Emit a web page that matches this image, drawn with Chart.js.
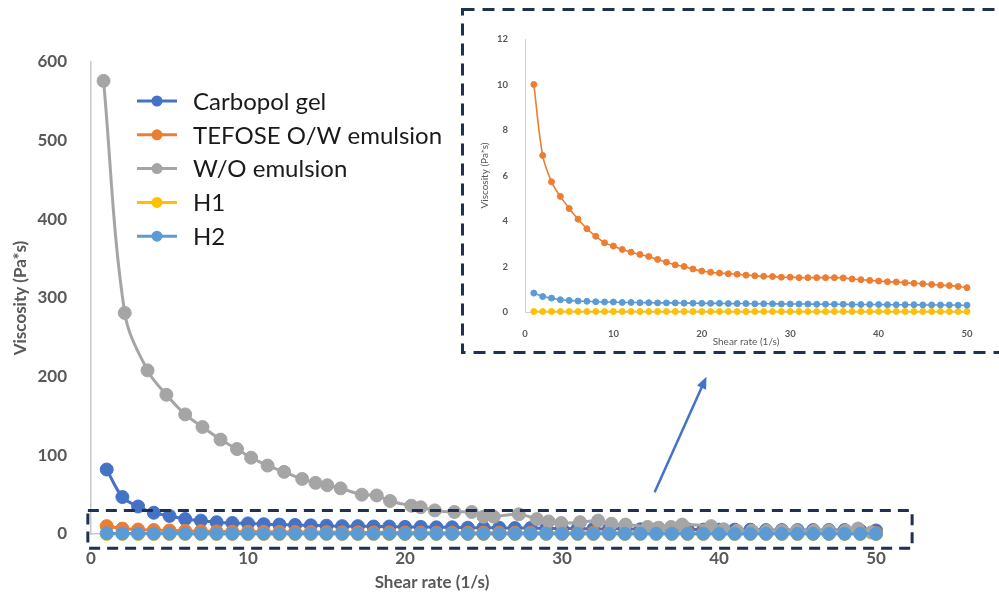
<!DOCTYPE html>
<html>
<head>
<meta charset="utf-8">
<script src="https://cdn.jsdelivr.net/npm/chart.js@4.4.1/dist/chart.umd.min.js"></script>
<style>
  html, body { margin: 0; padding: 0; background: #fff; }
  #wrap { position: relative; width: 999px; height: 599px; }
  #mainChart { position: absolute; left: 0; top: 0; }
  #zoomChart { position: absolute; left: 460px; top: 0; }
</style>
</head>
<body>
<div id="wrap">
  <canvas id="mainChart" width="999" height="599"></canvas>
  <canvas id="zoomChart" width="539" height="360"></canvas>
</div>
<script>
// Shear rate steps (1/s)
const shearRates = [1, 2, 3, 4, 5, 6, 7, 8, 9, 10, 11, 12, 13, 14, 15, 16, 17, 18, 19, 20,
  21, 22, 23, 24, 25, 26, 27, 28, 29, 30, 31, 32, 33, 34, 35, 36, 37, 38, 39, 40,
  41, 42, 43, 44, 45, 46, 47, 48, 49, 50];

// Viscosity (Pa*s)
const carbopol = [82, 47, 35, 27, 23, 19, 17, 15, 14, 13.5, 12.5, 12, 11.5, 11, 10.5, 10, 10, 9.5, 9.5, 9,
  9, 8.5, 8.5, 8, 8, 8, 7.5, 7.5, 7, 7, 7, 6.5, 6.5, 6.5, 6, 6, 6, 6, 5.5, 5.5,
  5.5, 5.5, 5, 5, 5, 5, 5, 5, 4.5, 4.5];
const tefose = [10.0, 6.88, 5.72, 5.08, 4.55, 4.08, 3.66, 3.33, 3.04, 2.9, 2.75, 2.63, 2.53, 2.44, 2.31, 2.19, 2.07, 2.0, 1.89, 1.8,
  1.75, 1.71, 1.68, 1.66, 1.62, 1.59, 1.57, 1.56, 1.53, 1.53, 1.51, 1.51, 1.51, 1.51, 1.51, 1.5, 1.45, 1.42, 1.39, 1.36,
  1.33, 1.32, 1.29, 1.26, 1.24, 1.21, 1.18, 1.16, 1.12, 1.07];
const h1 = [0.02, 0.02, 0.02, 0.02, 0.02, 0.02, 0.02, 0.02, 0.02, 0.02, 0.02, 0.02, 0.02, 0.02, 0.02, 0.02, 0.02, 0.02, 0.02, 0.02,
  0.02, 0.02, 0.02, 0.02, 0.02, 0.02, 0.02, 0.02, 0.02, 0.02, 0.02, 0.02, 0.02, 0.02, 0.02, 0.02, 0.02, 0.02, 0.02, 0.02,
  0.02, 0.02, 0.02, 0.02, 0.02, 0.02, 0.02, 0.02, 0.02, 0.02];
const h2 = [0.83, 0.68, 0.61, 0.54, 0.51, 0.48, 0.47, 0.45, 0.44, 0.44, 0.42, 0.42, 0.41, 0.41, 0.4, 0.4, 0.4, 0.39, 0.39, 0.38,
  0.38, 0.38, 0.37, 0.37, 0.37, 0.36, 0.36, 0.36, 0.35, 0.35, 0.35, 0.35, 0.34, 0.34, 0.34, 0.34, 0.33, 0.33, 0.33, 0.33,
  0.32, 0.32, 0.32, 0.32, 0.31, 0.31, 0.31, 0.31, 0.3, 0.3];

// W/O emulsion was sampled at its own shear rates
const woShear = [0.8, 2.15, 3.6, 4.8, 6.0, 7.1, 8.25, 9.3, 10.2, 11.25, 12.3, 13.45, 14.3, 15.05, 15.9, 17.25, 18.2, 19.05, 20.4, 21.0,
  21.9, 23.15, 24.25, 25.0, 25.65, 27.25, 28.4, 29.15, 29.95, 31.15, 32.3, 33.15, 34.05, 35.45, 36.15, 36.95, 37.65, 39.5, 40.3, 41.15,
  42.1, 43.05, 44.0, 44.95, 46.05, 47.0, 48.05, 48.85, 49.7];
const woViscosity = [576, 281, 208, 177, 152, 136, 120, 108, 97, 87, 79, 70, 65, 62, 58, 50, 49, 42, 36, 34,
  30, 28, 28, 22, 22, 25, 19, 16, 14, 15, 17, 13, 12, 9, 8, 9, 12, 10, 6, 4,
  4, 4, 4, 4, 4, 4, 4, 7, 2];

const seriesNames = ['Carbopol gel', 'TEFOSE O/W emulsion', 'W/O emulsion', 'H1', 'H2'];
const seriesColors = ['#4472c4', '#ed7d31', '#a5a5a5', '#ffc000', '#5b9bd5'];

const pairs = (xs, ys) => xs.map((x, i) => ({ x: x, y: ys[i] }));
const axisGray = '#595959';
const FONT = 'Lato, "Open Sans", sans-serif';

function lineSet(name, points, radius, width, order) {
  const c = seriesColors[seriesNames.indexOf(name)];
  return {
    label: name,
    data: points,
    borderColor: c,
    backgroundColor: c,
    borderWidth: width,
    pointRadius: radius,
    pointBorderWidth: 1,
    pointBorderColor: c,
    pointBackgroundColor: c,
    tension: 0.35,
    clip: false,
    order: order
  };
}

// legend, zoom box and arrow on the main chart
const mainDecor = {
  id: 'mainDecor',
  afterDraw(chart) {
    const ctx = chart.ctx;
    const xs = chart.scales.x, ys = chart.scales.y;
    ctx.save();

    // legend
    seriesNames.forEach((name, i) => {
      const y = 101 + i * 33.8;
      ctx.strokeStyle = seriesColors[i];
      ctx.fillStyle = seriesColors[i];
      ctx.lineWidth = 3;
      ctx.beginPath();
      ctx.moveTo(137, y);
      ctx.lineTo(177, y);
      ctx.stroke();
      ctx.beginPath();
      ctx.arc(157, y, 5.5, 0, Math.PI * 2);
      ctx.fill();
      ctx.fillStyle = '#1a1a1a';
      ctx.font = '24px ' + FONT;
      ctx.textBaseline = 'middle';
      ctx.textAlign = 'left';
      ctx.fillText(name, 193, y + 1);
    });

    // x axis title
    ctx.fillStyle = axisGray;
    ctx.font = 'bold 17px ' + FONT;
    ctx.textAlign = 'center';
    ctx.textBaseline = 'middle';
    ctx.fillText('Shear rate (1/s)', 432, 583);

    // dashed box around the low-viscosity curves
    const bx0 = xs.getPixelForValue(-0.2), bx1 = xs.getPixelForValue(52.3);
    const by0 = ys.getPixelForValue(30), by1 = ys.getPixelForValue(-18);
    ctx.strokeStyle = '#1f3050';
    ctx.lineWidth = 3;
    ctx.setLineDash([11, 7]);
    ctx.strokeRect(bx0, by0, bx1 - bx0, by1 - by0);
    ctx.setLineDash([]);

    // arrow pointing to the inset
    const ax0 = xs.getPixelForValue(35.9), ay0 = ys.getPixelForValue(53);
    const ax1 = xs.getPixelForValue(39.2), ay1 = ys.getPixelForValue(200);
    const ang = Math.atan2(ay1 - ay0, ax1 - ax0);
    ctx.strokeStyle = '#4472c4';
    ctx.fillStyle = '#4472c4';
    ctx.lineWidth = 2.5;
    ctx.beginPath();
    ctx.moveTo(ax0, ay0);
    ctx.lineTo(ax1 - 8 * Math.cos(ang), ay1 - 8 * Math.sin(ang));
    ctx.stroke();
    ctx.beginPath();
    ctx.moveTo(ax1, ay1);
    ctx.lineTo(ax1 - 12 * Math.cos(ang) + 5 * Math.sin(ang), ay1 - 12 * Math.sin(ang) - 5 * Math.cos(ang));
    ctx.lineTo(ax1 - 12 * Math.cos(ang) - 5 * Math.sin(ang), ay1 - 12 * Math.sin(ang) + 5 * Math.cos(ang));
    ctx.closePath();
    ctx.fill();
    ctx.restore();
  }
};

new Chart(document.getElementById('mainChart'), {
  type: 'line',
  data: {
    datasets: [
      lineSet('Carbopol gel', pairs(shearRates, carbopol), 6.5, 3, 5),
      lineSet('TEFOSE O/W emulsion', pairs(shearRates, tefose), 6.5, 3, 4),
      lineSet('W/O emulsion', pairs(woShear, woViscosity), 6.5, 3, 3),
      lineSet('H1', pairs(shearRates, h1), 6.5, 3, 2),
      lineSet('H2', pairs(shearRates, h2), 6.5, 3, 1)
    ]
  },
  options: {
    responsive: false,
    animation: false,
    layout: { padding: { left: 0, top: 62, right: 123, bottom: 0 } },
    plugins: { legend: { display: false }, tooltip: { enabled: false } },
    scales: {
      x: {
        type: 'linear', min: 0, max: 50,
        grid: { display: false },
        border: { display: true, color: '#c8c8c8', width: 1.5 },
        ticks: { stepSize: 10, padding: 6, color: axisGray, font: { family: FONT, size: 17, weight: 'bold' }, maxRotation: 0 },
        afterFit(s) { s.height = 65; }
      },
      y: {
        min: 0, max: 600,
        grid: { display: false },
        border: { display: true, color: '#c8c8c8', width: 1.5 },
        ticks: { stepSize: 100, padding: 16, color: axisGray, font: { family: FONT, size: 17, weight: 'bold' } },
        title: { display: true, text: 'Viscosity (Pa*s)', color: axisGray, padding: { top: 10, bottom: 0 },
          font: { family: FONT, size: 17, weight: 'bold' } },
        afterFit(s) { s.width = 91; }
      }
    }
  },
  plugins: [mainDecor]
});

// dashed frame round the inset
const insetFrame = {
  id: 'insetFrame',
  afterDraw(chart) {
    const ctx = chart.ctx;
    ctx.save();
    ctx.strokeStyle = '#1f3050';
    ctx.lineWidth = 3;
    ctx.setLineDash([12, 8]);
    ctx.strokeRect(2.5, 9.5, 600, 343);
    ctx.restore();
  }
};

new Chart(document.getElementById('zoomChart'), {
  type: 'line',
  data: {
    datasets: [
      lineSet('TEFOSE O/W emulsion', pairs(shearRates, tefose), 3, 1.6, 3),
      lineSet('H1', pairs(shearRates, h1), 3, 1.6, 2),
      lineSet('H2', pairs(shearRates, h2), 3, 1.6, 1)
    ]
  },
  options: {
    responsive: false,
    animation: false,
    layout: { padding: { left: 0, top: 39, right: 32, bottom: 0 } },
    plugins: { legend: { display: false }, tooltip: { enabled: false } },
    scales: {
      x: {
        type: 'linear', min: 0, max: 50,
        grid: { display: false },
        border: { display: true, color: '#d0d0d0', width: 1 },
        ticks: { stepSize: 10, padding: 8, color: axisGray, font: { family: FONT, size: 9.5, weight: 'bold' }, maxRotation: 0 },
        title: { display: true, text: 'Shear rate (1/s)', color: axisGray, padding: { top: 0, bottom: 12 },
          font: { family: FONT, size: 10 } },
        afterFit(s) { s.height = 48; }
      },
      y: {
        min: 0, max: 12,
        grid: { display: false },
        border: { display: true, color: '#d0d0d0', width: 1 },
        ticks: { stepSize: 2, padding: 9, color: axisGray, font: { family: FONT, size: 9.5, weight: 'bold' } },
        title: { display: true, text: 'Viscosity (Pa*s)', color: axisGray, padding: { top: 19, bottom: 0 },
          font: { family: FONT, size: 10 } },
        afterFit(s) { s.width = 65; }
      }
    }
  },
  plugins: [insetFrame]
});
</script>
</body>
</html>
